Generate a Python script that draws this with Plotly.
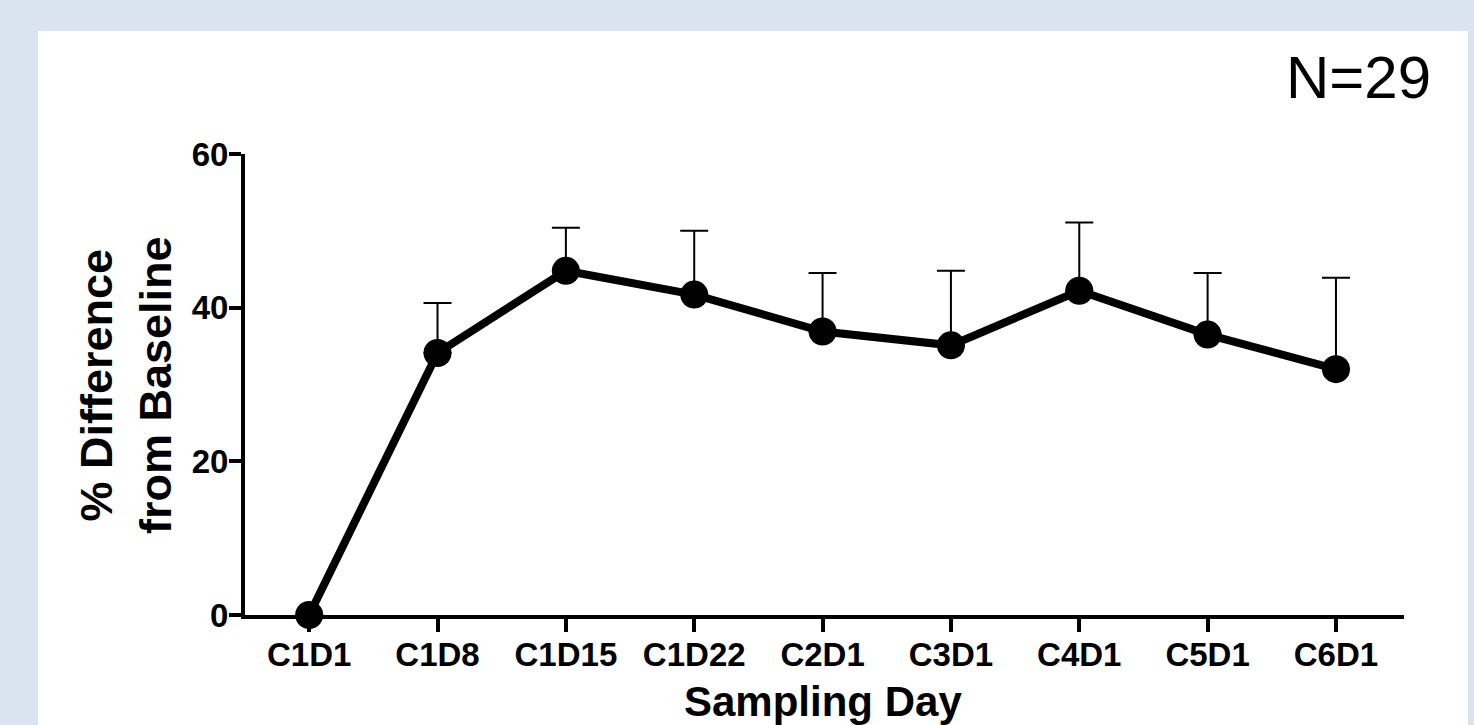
import plotly.graph_objects as go

categories = ["C1D1", "C1D8", "C1D15", "C1D22", "C2D1", "C3D1", "C4D1", "C5D1", "C6D1"]
mean_pct = [0.0, 34.1, 44.8, 41.7, 36.9, 35.1, 42.2, 36.5, 32.0]
sem_upper = [0.0, 6.5, 5.6, 8.3, 7.6, 9.7, 8.9, 8.0, 11.9]
y_ticks = [0, 20, 40, 60]

W, H = 1474, 725
L, R, T, B = 245, 1404, 154, 615  # plot area in px
pw, ph = R - L, B - T

def px_x(x):
    return (x - L) / pw

def px_y(y):
    return (B - y) / ph

FONT = "Liberation Sans, Arial, Helvetica, sans-serif"

fig = go.Figure()
fig.add_trace(go.Scatter(
    x=categories, y=mean_pct, mode="lines+markers",
    line=dict(color="black", width=8),
    marker=dict(color="black", size=28),
    error_y=dict(type="data", symmetric=False, array=sem_upper,
                 arrayminus=[0] * len(sem_upper), color="black",
                 thickness=2, width=14),
    cliponaxis=False, showlegend=False,
))

fig.update_layout(
    width=W, height=H,
    margin=dict(l=L, r=W - R, t=T, b=H - B, pad=0),
    paper_bgcolor="#dae4f0", plot_bgcolor="rgba(0,0,0,0)",
    font=dict(family=FONT, color="black"),
    shapes=[dict(type="rect", xref="paper", yref="paper", layer="below",
                 x0=px_x(38), x1=px_x(1468), y0=px_y(740), y1=px_y(31),
                 fillcolor="white", line=dict(width=0))],
    xaxis=dict(type="category", range=[-0.5, 8.53], showgrid=False, zeroline=False,
               showline=True, linecolor="black", linewidth=4,
               ticks="outside", ticklen=13, tickwidth=4, tickcolor="black",
               tickfont=dict(size=33, weight="bold", family=FONT, color="black"),
               ticklabelstandoff=-6),
    yaxis=dict(range=[0, 60], tickvals=y_ticks, showgrid=False, zeroline=False,
               showline=True, linecolor="black", linewidth=4,
               ticks="outside", ticklen=12, tickwidth=4, tickcolor="black",
               tickfont=dict(size=33, weight="bold", family=FONT, color="black"),
               ticklabelstandoff=-6),
    annotations=[
        dict(text="% Difference<br>from Baseline", xref="paper", yref="paper",
             x=px_x(126), y=px_y(385), xanchor="center", yanchor="middle",
             textangle=-90, showarrow=False,
             font=dict(size=45, weight="bold", family=FONT, color="black")),
        dict(text="Sampling Day", xref="paper", yref="paper",
             x=px_x(823), y=px_y(701), xanchor="center", yanchor="middle",
             showarrow=False,
             font=dict(size=42, weight="bold", family=FONT, color="black")),
        dict(text="N=29", xref="paper", yref="paper",
             x=px_x(1358), y=px_y(77), xanchor="center", yanchor="middle",
             showarrow=False,
             font=dict(size=60, family=FONT, color="black")),
    ],
)

fig.write_html("out.html")
